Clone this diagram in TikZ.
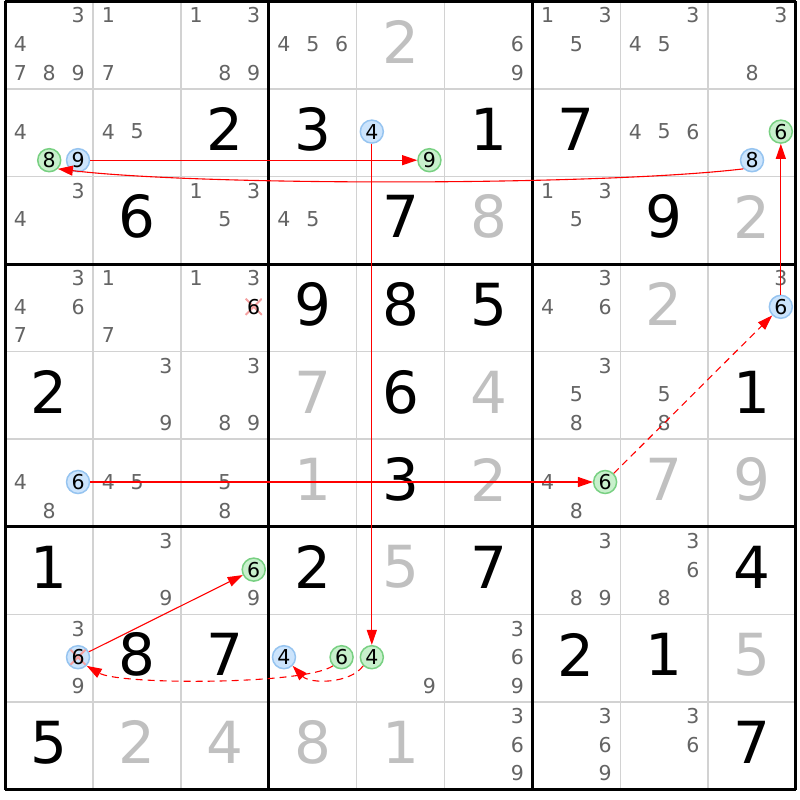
\documentclass[tikz,border=0pt]{standalone}
\usepackage{fontspec}
\setmainfont{DejaVu Sans}
\usetikzlibrary{arrows.meta}
\definecolor{candgray}{RGB}{100,100,100}
\definecolor{solvedgray}{RGB}{192,192,192}
\definecolor{thingrid}{RGB}{210,210,210}
\definecolor{bluefill}{RGB}{204,228,252}
\definecolor{blueline}{RGB}{150,196,240}
\definecolor{greenfill}{RGB}{200,240,204}
\definecolor{greenline}{RGB}{120,208,130}
\definecolor{chainred}{RGB}{255,0,0}
\definecolor{xpink}{RGB}{245,160,160}
\newcommand{\bigd}[4]{\node[#4] (d#1#2) at ({5.3+87.85*(#2-0.5)},{1.2+87.6*(#1-0.5)-3.5}) {#3};}
\newcommand{\cands}[3]{\foreach \dg in {#3}{\node[cand] (c#1#2\dg) at ({5.3+87.85*(#2-0.5)+28.8*(mod(\dg-1,3)-1)},{1.2+87.6*(#1-0.5)+28.6*(floor((\dg-1)/3)-1)-1}) {\dg};}}
\newcommand{\hcand}[4]{\node[cand,#4] (c#1#2#3) at ({5.3+87.85*(#2-0.5)+28.8*(mod(#3-1,3)-1)},{1.2+87.6*(#1-0.5)+28.6*(floor((#3-1)/3)-1)-1}) {#3};}
\tikzset{
  cand/.style={font=\fontsize{20.5}{24}\selectfont, text=candgray, inner sep=0pt},
  given/.style={font=\fontsize{58}{60}\selectfont, text=black, inner sep=0pt},
  solved/.style={given, text=solvedgray},
  hlblue/.style={circle, minimum size=23pt, inner sep=0pt, fill=bluefill, draw=blueline, line width=1.5pt, text=black},
  hlgreen/.style={circle, minimum size=23pt, inner sep=0pt, fill=greenfill, draw=greenline, line width=1.5pt, text=black},
  elim/.style={circle, minimum size=23pt, inner sep=0pt, text=black,
    path picture={\draw[xpink, line width=2pt]
      (path picture bounding box.south west) -- (path picture bounding box.north east)
      (path picture bounding box.north west) -- (path picture bounding box.south east);}},
  thinline/.style={draw=thingrid, line width=1.5pt},
  thickline/.style={draw=black, line width=3pt},
  chain/.style={draw=chainred, line width=1.1pt, -{Triangle[length=15pt,width=10pt]}},
  chaind/.style={chain, dash pattern=on 7pt off 5pt}
}
\begin{document}
\begin{tikzpicture}[x=1pt,y=-1pt]
\useasboundingbox[fill=white] (0,0) rectangle (800,800);
% grid
\foreach \i in {1,2,4,5,7,8}{
  \draw[thinline] ({5.3+87.85*\i},1.2) -- ({5.3+87.85*\i},{1.2+87.6*9});
  \draw[thinline] (5.3,{1.2+87.6*\i}) -- ({5.3+87.85*9},{1.2+87.6*\i});
}
\foreach \i in {0,3,6,9}{
  \draw[thickline] ({5.3+87.85*\i},1.2) -- ({5.3+87.85*\i},{1.2+87.6*9});
  \draw[thickline] (5.3,{1.2+87.6*\i}) -- ({5.3+87.85*9},{1.2+87.6*\i});
}
% row 1
\cands{1}{1}{3,4,7,8,9}
\cands{1}{2}{1,7}
\cands{1}{3}{1,3,8,9}
\cands{1}{4}{4,5,6}
\bigd{1}{5}{2}{solved}
\cands{1}{6}{6,9}
\cands{1}{7}{1,3,5}
\cands{1}{8}{3,4,5}
\cands{1}{9}{3,8}
% row 2
\cands{2}{1}{4}
\hcand{2}{1}{8}{hlgreen}
\hcand{2}{1}{9}{hlblue}
\cands{2}{2}{4,5}
\bigd{2}{3}{2}{given}
\bigd{2}{4}{3}{given}
\hcand{2}{5}{4}{hlblue}
\hcand{2}{5}{9}{hlgreen}
\bigd{2}{6}{1}{given}
\bigd{2}{7}{7}{given}
\cands{2}{8}{4,5,6}
\hcand{2}{9}{6}{hlgreen}
\hcand{2}{9}{8}{hlblue}
% row 3
\cands{3}{1}{3,4}
\bigd{3}{2}{6}{given}
\cands{3}{3}{1,3,5}
\cands{3}{4}{4,5}
\bigd{3}{5}{7}{given}
\bigd{3}{6}{8}{solved}
\cands{3}{7}{1,3,5}
\bigd{3}{8}{9}{given}
\bigd{3}{9}{2}{solved}
% row 4
\cands{4}{1}{3,4,6,7}
\cands{4}{2}{1,7}
\cands{4}{3}{1,3}
\hcand{4}{3}{6}{elim}
\bigd{4}{4}{9}{given}
\bigd{4}{5}{8}{given}
\bigd{4}{6}{5}{given}
\cands{4}{7}{3,4,6}
\bigd{4}{8}{2}{solved}
\cands{4}{9}{3}
\hcand{4}{9}{6}{hlblue}
% row 5
\bigd{5}{1}{2}{given}
\cands{5}{2}{3,9}
\cands{5}{3}{3,8,9}
\bigd{5}{4}{7}{solved}
\bigd{5}{5}{6}{given}
\bigd{5}{6}{4}{solved}
\cands{5}{7}{3,5,8}
\cands{5}{8}{5,8}
\bigd{5}{9}{1}{given}
% row 6
\cands{6}{1}{4,8}
\hcand{6}{1}{6}{hlblue}
\cands{6}{2}{4,5}
\cands{6}{3}{5,8}
\bigd{6}{4}{1}{solved}
\bigd{6}{5}{3}{given}
\bigd{6}{6}{2}{solved}
\cands{6}{7}{4,8}
\hcand{6}{7}{6}{hlgreen}
\bigd{6}{8}{7}{solved}
\bigd{6}{9}{9}{solved}
% row 7
\bigd{7}{1}{1}{given}
\cands{7}{2}{3,9}
\cands{7}{3}{9}
\hcand{7}{3}{6}{hlgreen}
\bigd{7}{4}{2}{given}
\bigd{7}{5}{5}{solved}
\bigd{7}{6}{7}{given}
\cands{7}{7}{3,8,9}
\cands{7}{8}{3,6,8}
\bigd{7}{9}{4}{given}
% row 8
\cands{8}{1}{3,9}
\hcand{8}{1}{6}{hlblue,elim}
\bigd{8}{2}{8}{given}
\bigd{8}{3}{7}{given}
\hcand{8}{4}{4}{hlblue}
\hcand{8}{4}{6}{hlgreen}
\hcand{8}{5}{4}{hlgreen}
\cands{8}{5}{9}
\cands{8}{6}{3,6,9}
\bigd{8}{7}{2}{given}
\bigd{8}{8}{1}{given}
\bigd{8}{9}{5}{solved}
% row 9
\bigd{9}{1}{5}{given}
\bigd{9}{2}{2}{solved}
\bigd{9}{3}{4}{solved}
\bigd{9}{4}{8}{solved}
\bigd{9}{5}{1}{solved}
\cands{9}{6}{3,6,9}
\cands{9}{7}{3,6,9}
\cands{9}{8}{3,6}
\bigd{9}{9}{7}{given}
% chain
\draw[chain] (c219) -- (c259);
\draw[chain] (c298.south west) .. controls (600,186) and (200,186) .. (c218.south east);
\draw[chain] (c254) -- (c854);
\draw[chain] (c616) -- (c676);
\draw[chaind] (c676) -- (c496);
\draw[chain] (c496) -- (c296);
\draw[chain] (c816) -- (c736);
\draw[chaind] (c854.south west) .. controls (350,684) and (310,684) .. (c844.south east);
\draw[chaind] (c846.south west) .. controls (305,685) and (120,685) .. (c816.south east);
\end{tikzpicture}
\end{document}
